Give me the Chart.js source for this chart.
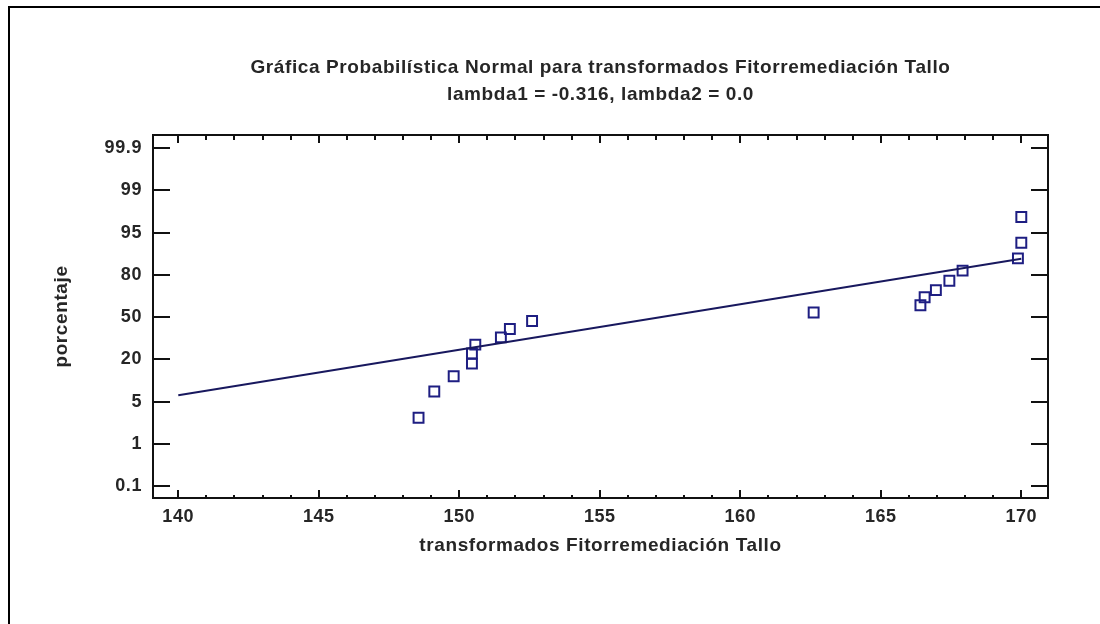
<!DOCTYPE html>
<html lang="es">
<head>
<meta charset="UTF-8">
<title>Gráfica Probabilística Normal</title>
<script src="https://cdn.jsdelivr.net/npm/chart.js"></script>
<style>
  body { margin: 0; background: #fff; }
  #wrap { position: relative; width: 1100px; height: 624px; overflow: hidden; }
  #frame { position: absolute; left: 8px; top: 6px; right: -20px; bottom: -20px;
           border-left: 2px solid #000; border-top: 2px solid #000; }
  #myChart { position: absolute; left: 0; top: 0; }
</style>
</head>
<body>
<div id="wrap">
  <div id="frame"></div>
  <canvas id="myChart" width="1100" height="624"></canvas>
</div>
<script>
// percent labels on the probability axis, one per tick position 0..8
const yTickLabels = ['0.1', '1', '5', '20', '50', '80', '95', '99', '99.9'];

// observed transformed values and their plotting positions
const obsX = [148.55, 149.11, 149.80, 150.45, 150.45, 150.57, 151.48, 151.80, 152.59,
              162.61, 166.41, 166.56, 166.96, 167.44, 167.91, 169.88, 170.0, 170.0];
const obsY = [1.62, 2.24, 2.60, 2.90, 3.14, 3.35, 3.52, 3.72, 3.91,
              4.11, 4.28, 4.47, 4.64, 4.86, 5.10, 5.39, 5.76, 6.37];

// fitted reference line
const fitX = [140, 170];
const fitY = [2.15, 5.38];

const xMin = 139.1, xMax = 170.95;
const yMin = -0.28, yMax = 8.31;

const txt = '#262626';
const fontFam = "'Liberation Sans', Arial, sans-serif";
const markColor = '#1e1e82';
const lineColor = '#18185e';

Chart.defaults.font.family = fontFam;
Chart.defaults.font.weight = 'bold';
Chart.defaults.color = txt;

const points = obsX.map((x, i) => ({ x: x, y: obsY[i] }));
const fitLine = fitX.map((x, i) => ({ x: x, y: fitY[i] }));

function minorDash(dash) {
  return function (ctx) {
    return ctx.tick && ctx.tick.value % 5 !== 0 ? dash : [];
  };
}

// the original text is set a bit loose
const spacing = {
  id: 'spacing',
  beforeDraw(chart) {
    chart.ctx.letterSpacing = '0.6px';
  }
};

const axisGrid = {
  display: true,
  drawOnChartArea: false,
  color: '#111',
  lineWidth: 2
};
const axisBorder = { display: true, color: '#111', width: 2 };

new Chart(document.getElementById('myChart').getContext('2d'), {
  type: 'scatter',
  plugins: [spacing],
  data: {
    datasets: [{
      data: fitLine,
      showLine: true,
      borderColor: lineColor,
      borderWidth: 2,
      pointRadius: 0,
      fill: false
    }, {
      data: points,
      pointStyle: 'rect',
      pointRadius: 7,
      pointHoverRadius: 7,
      pointBorderWidth: 2,
      borderColor: markColor,
      backgroundColor: 'rgba(0,0,0,0)'
    }]
  },
  options: {
    responsive: false,
    animation: false,
    layout: { padding: 0 },
    plugins: {
      legend: { display: false },
      tooltip: { enabled: false },
      title: {
        display: true,
        fullSize: false,
        text: 'Gráfica Probabilística Normal para transformados Fitorremediación Tallo',
        color: txt,
        font: { size: 19, weight: 'bold' },
        padding: { top: 56, bottom: 4.8 }
      },
      subtitle: {
        display: true,
        fullSize: false,
        text: 'lambda1 = -0.316, lambda2 = 0.0',
        color: txt,
        font: { size: 19, weight: 'bold' },
        padding: { top: 0, bottom: 28.6 }
      }
    },
    scales: {
      x: {
        type: 'linear',
        position: 'bottom',
        min: xMin,
        max: xMax,
        grid: Object.assign({}, axisGrid, { tickLength: -8, tickBorderDash: minorDash([4, 20]) }),
        border: axisBorder,
        ticks: {
          stepSize: 1,
          includeBounds: false,
          padding: 16,
          color: txt,
          font: { size: 18, weight: 'bold' },
          maxRotation: 0,
          autoSkip: false,
          callback: (v) => (v % 5 === 0 ? String(v) : '')
        },
        title: {
          display: true,
          text: 'transformados Fitorremediación Tallo',
          color: txt,
          font: { size: 19, weight: 'bold' },
          padding: { top: 0, bottom: 67 }
        },
        afterFit: (s) => { s.height = 126; }
      },
      x2: {
        type: 'linear',
        position: 'top',
        min: xMin,
        max: xMax,
        grid: Object.assign({}, axisGrid, { tickLength: -8, tickBorderDash: minorDash([0, 3, 5, 20]) }),
        border: axisBorder,
        ticks: { display: false, stepSize: 1, includeBounds: false, autoSkip: false },
        afterFit: (s) => { s.height = 0; }
      },
      y: {
        type: 'linear',
        position: 'left',
        min: yMin,
        max: yMax,
        grid: Object.assign({}, axisGrid, { tickLength: -17 }),
        border: axisBorder,
        ticks: {
          stepSize: 1,
          includeBounds: false,
          padding: 28,
          color: txt,
          font: { size: 18, weight: 'bold' },
          callback: (v) => yTickLabels[v]
        },
        title: {
          display: true,
          text: 'porcentaje',
          color: txt,
          font: { size: 19, weight: 'bold' },
          padding: { top: 50.6, bottom: 0 }
        },
        afterFit: (s) => { s.width = 153; }
      },
      y2: {
        type: 'linear',
        position: 'right',
        min: yMin,
        max: yMax,
        grid: Object.assign({}, axisGrid, { tickLength: -17 }),
        border: axisBorder,
        ticks: { display: false, stepSize: 1, includeBounds: false },
        afterFit: (s) => { s.width = 52; }
      }
    }
  }
});
</script>
</body>
</html>
